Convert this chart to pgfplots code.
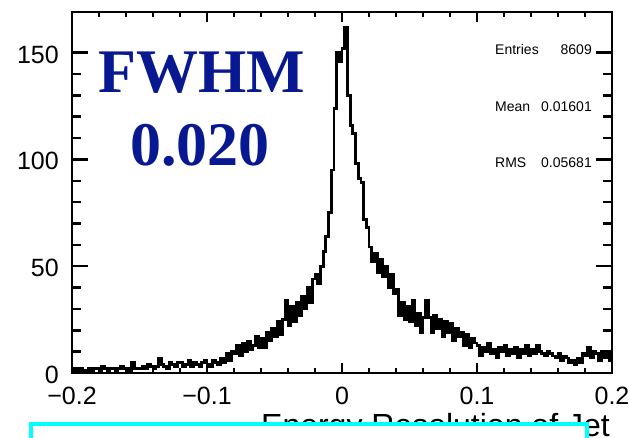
\documentclass[border=0pt]{standalone}
\usepackage{pgfplots}
\pgfplotsset{compat=1.18}
\usepackage{fontspec}
\setmainfont{Liberation Sans}
\newfontfamily\timesfont{Liberation Serif}
\definecolor{fwhmblue}{RGB}{8,24,145}
\definecolor{boxcyan}{RGB}{0,255,255}

\pgfplotsset{
  rootframe/.style={
    at={(72pt,64pt)}, anchor=south west,
    scale only axis, width=540pt, height=361pt,
    xmin=-0.2, xmax=0.2, ymin=0, ymax=169,
    axis line style={line width=2.6pt},
    tick style={line width=2.5pt, black},
    tick align=inside,
  }
}

\begin{document}
\begin{tikzpicture}[x=1pt,y=1pt]
\path[use as bounding box] (0,0) rectangle (629,437);
\begin{scope}
\clip (0,0) rectangle (629,437);

% histogram + x ticks
\begin{axis}[rootframe,
  xtick={-0.2,-0.1,0,0.1,0.2},
  xticklabels={−0.2,−0.1,0,0.1,0.2},
  minor x tick num=4,
  ytick=\empty,
  major tick length=10pt, minor tick length=5pt,
  x tick label style={font=\fontsize{25}{30}\selectfont, inner sep=0pt, yshift=-14pt},
  xlabel={Energy Resolution of Jet},
  xlabel style={at={(axis description cs:1,0)}, anchor=base east, xshift=-2pt, yshift=-63pt,
                inner sep=0pt, font=\fontsize{32}{38}\selectfont},
]
\addplot[const plot mark left, line width=2.8pt, black, no marks] coordinates {
(-0.200,1) (-0.198,2) (-0.196,1) (-0.194,2) (-0.192,1) (-0.190,1) (-0.188,2) (-0.186,1) (-0.184,2) (-0.182,2)
(-0.180,1) (-0.178,3) (-0.176,2) (-0.174,1) (-0.172,2) (-0.170,2) (-0.168,1) (-0.166,2) (-0.164,3) (-0.162,2)
(-0.160,2) (-0.158,1) (-0.156,5) (-0.154,2) (-0.152,2) (-0.150,2) (-0.148,3) (-0.146,2) (-0.144,4) (-0.142,3)
(-0.140,2) (-0.138,3) (-0.136,7) (-0.134,4) (-0.132,3) (-0.130,2) (-0.128,5) (-0.126,4) (-0.124,3) (-0.122,5)
(-0.120,5) (-0.118,3) (-0.116,4) (-0.114,6) (-0.112,3) (-0.110,5) (-0.108,4) (-0.106,3) (-0.104,5) (-0.102,6)
(-0.100,4) (-0.098,3) (-0.096,6) (-0.094,5) (-0.092,4) (-0.090,7) (-0.088,5) (-0.086,9) (-0.084,6) (-0.082,10)
(-0.080,9) (-0.078,13) (-0.076,8) (-0.074,14) (-0.072,10) (-0.070,15) (-0.068,11) (-0.066,13) (-0.064,17) (-0.062,12)
(-0.060,16) (-0.058,12) (-0.056,19) (-0.054,15) (-0.052,21) (-0.050,17) (-0.048,24) (-0.046,18) (-0.044,25) (-0.042,34)
(-0.040,22) (-0.038,31) (-0.036,24) (-0.034,33) (-0.032,27) (-0.030,36) (-0.028,30) (-0.026,40) (-0.024,33) (-0.022,44)
(-0.020,46) (-0.018,42) (-0.016,50) (-0.014,57) (-0.012,64) (-0.010,75) (-0.008,95) (-0.006,124) (-0.004,150) (-0.002,146)
(0.000,152) (0.002,162) (0.004,130) (0.006,116) (0.008,112) (0.010,98) (0.012,91) (0.014,89) (0.016,72) (0.018,68)
(0.020,59) (0.022,52) (0.024,56) (0.026,47) (0.028,53) (0.030,45) (0.032,50) (0.034,40) (0.036,46) (0.038,37)
(0.040,39) (0.042,27) (0.044,33) (0.046,25) (0.048,31) (0.050,24) (0.052,34) (0.054,22) (0.056,28) (0.058,19)
(0.060,26) (0.062,34) (0.064,26) (0.066,19) (0.068,27) (0.070,21) (0.072,25) (0.074,17) (0.076,24) (0.078,19)
(0.080,23) (0.082,15) (0.084,21) (0.086,17) (0.088,19) (0.090,13) (0.092,18) (0.094,12) (0.096,16) (0.098,14)
(0.100,13) (0.102,8) (0.104,12) (0.106,10) (0.108,14) (0.110,9) (0.112,11) (0.114,7) (0.116,12) (0.118,10)
(0.120,13) (0.122,8) (0.124,11) (0.126,9) (0.128,12) (0.130,7) (0.132,11) (0.134,9) (0.136,13) (0.138,8)
(0.140,11) (0.142,9) (0.144,13) (0.146,10) (0.148,9) (0.150,8) (0.152,10) (0.154,9) (0.156,8) (0.158,7)
(0.160,9) (0.162,6) (0.164,8) (0.166,7) (0.168,5) (0.170,6) (0.172,4) (0.174,7) (0.176,5) (0.178,9)
(0.180,8) (0.182,12) (0.184,7) (0.186,10) (0.188,9) (0.190,6) (0.192,10) (0.194,7) (0.196,9) (0.198,6)
(0.200,6)
};
\end{axis}

% y ticks (longer than the x ones, as ROOT draws them)
\begin{axis}[rootframe,
  xtick=\empty,
  ytick={0,50,100,150},
  yticklabels={0,50,100,150},
  minor y tick num=4,
  major tick length=16pt, minor tick length=9pt,
  y tick label style={font=\fontsize{25}{30}\selectfont, inner sep=0pt, xshift=-13pt, yshift=-2pt},
]
\end{axis}

% stats box text
\begin{scope}[font=\fontsize{14}{16}\selectfont]
\node[anchor=base west, inner sep=0pt] at (495,382) {Entries};
\node[anchor=base east, inner sep=0pt] at (592,382) {8609};
\node[anchor=base west, inner sep=0pt] at (495,325) {Mean};
\node[anchor=base east, inner sep=0pt] at (592,325) {0.01601};
\node[anchor=base west, inner sep=0pt] at (495,269) {RMS};
\node[anchor=base east, inner sep=0pt] at (592,269) {0.05681};
\end{scope}

\node[anchor=base, inner sep=0pt, text=fwhmblue, font=\timesfont\bfseries\fontsize{62}{62}\selectfont] at (202,344) {FWHM};
\node[anchor=base, inner sep=0pt, text=fwhmblue, font=\timesfont\bfseries\fontsize{62}{62}\selectfont] at (200,271) {0.020};

\draw[boxcyan, fill=white, line width=4.5pt] (31,-10) rectangle (587,13);
\end{scope}
\end{tikzpicture}
\end{document}
